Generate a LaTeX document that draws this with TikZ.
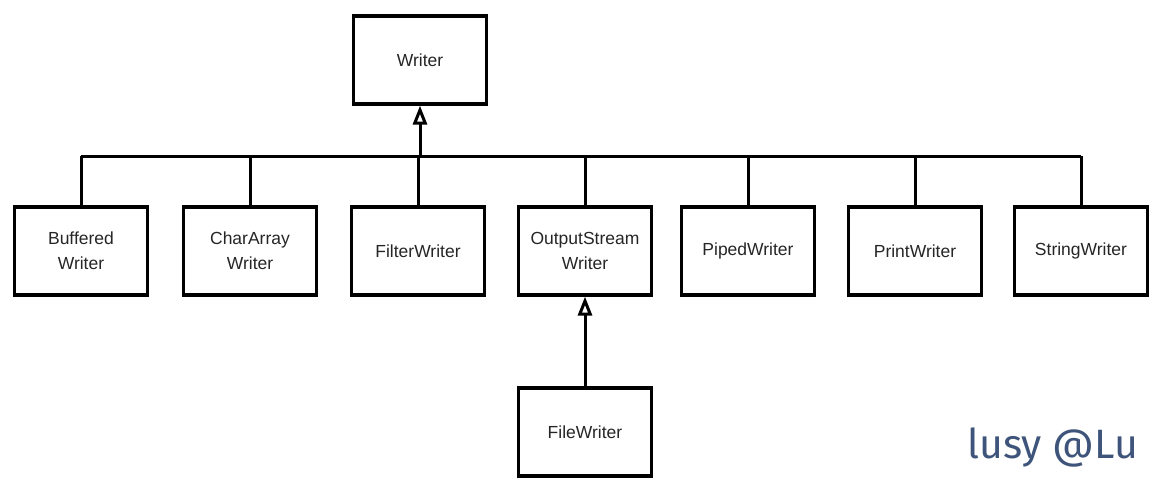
\documentclass[tikz,border=0pt]{standalone}
\usepackage{fontspec}
\setmainfont{Liberation Sans}
\newfontfamily\markfont{Fira Sans}
\usetikzlibrary{arrows.meta}
\begin{document}
\begin{tikzpicture}[x=1pt,y=-1pt,
  cls/.style={draw=black, line width=3.2pt, minimum width=133pt, minimum height=88pt, align=center, font=\fontsize{17.5}{25}\selectfont, text=black!85, fill=white, inner sep=2pt},
  link/.style={line width=3pt, draw=black},
  inh/.style={link, -{Triangle[open, fill=white, length=19pt, width=14pt, line width=3pt]}}]
\useasboundingbox (0,0) rectangle (1157,490);
\fill[white] (0,0) rectangle (1157,490);
\node[cls] (writer) at (420,60) {Writer};
\node[cls] (buf) at (81,251) {Buffered\\Writer};
\node[cls] (car) at (250,251) {CharArray\\Writer};
\node[cls] (fil) at (418,251) {FilterWriter};
\node[cls] (osw) at (585,251) {OutputStream\\Writer};
\node[cls] (pip) at (748,251) {PipedWriter};
\node[cls] (prn) at (915,251) {PrintWriter};
\node[cls] (str) at (1081,251) {StringWriter};
\node[cls] (file) at (585,432) {FileWriter};
\coordinate (bus) at (0,156);
\draw[link] (buf.north |- bus) -- (str.north |- bus);
\foreach \n in {buf,car,osw,pip,prn,str} {\draw[link] (\n.north) -- (\n.north |- bus);}
\draw[link] (fil.north) -- (fil.north |- bus);
\draw[inh] (writer.south |- bus) -- (writer.south);
\draw[inh] (file.north) -- (osw.south);
\node[font=\markfont\fontsize{41}{44}\selectfont, text={rgb,255:red,62;green,84;blue,122}, anchor=base west] (mark) at (964,458) {lusy @Lu};
\end{tikzpicture}
\end{document}
